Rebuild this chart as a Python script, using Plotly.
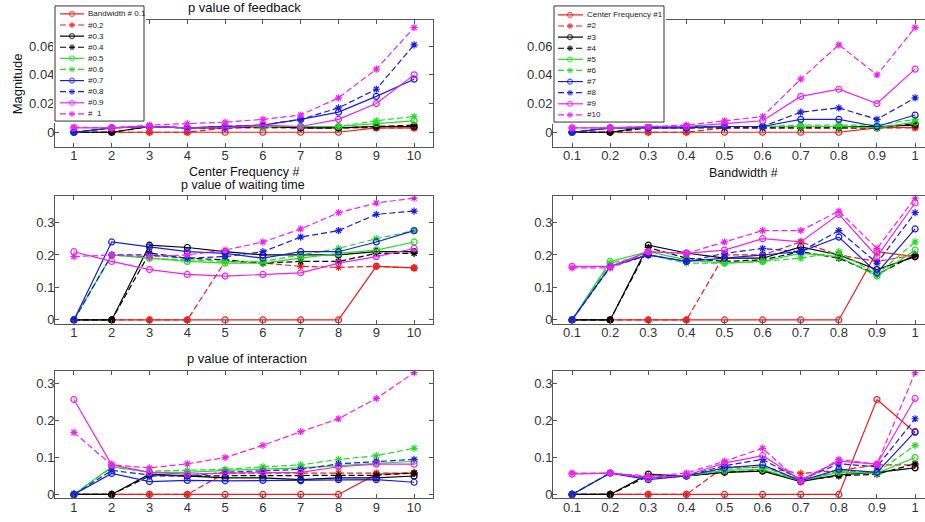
import plotly.graph_objects as go

# ---------------- data ----------------
center_freq = [1, 2, 3, 4, 5, 6, 7, 8, 9, 10]
bandwidth = [0.1, 0.2, 0.3, 0.4, 0.5, 0.6, 0.7, 0.8, 0.9, 1.0]
cf_ticktext = ["1", "2", "3", "4", "5", "6", "7", "8", "9", "10"]
bw_ticktext = ["0.1", "0.2", "0.3", "0.4", "0.5", "0.6", "0.7", "0.8", "0.9", "1"]
bw_legend = ["Bandwidth # 0.1", "#0.2", "#0.3", "#0.4", "#0.5", "#0.6", "#0.7", "#0.8", "#0.9", "#  1"]
cf_legend = ["Center Frequency #1", "#2", "#3", "#4", "#5", "#6", "#7", "#8", "#9", "#10"]

# rows = center frequency #1..#10, columns = bandwidth 0.1..1
feedback = [
    [0, 0, 0, 0, 0, 0, 0, 0, 0.003, 0.0035],
    [0, 0, 0, 0, 0.003, 0.003, 0.003, 0.003, 0.003, 0.003],
    [0, 0, 0.004, 0.004, 0.004, 0.004, 0.004, 0.004, 0.004, 0.005],
    [0, 0, 0.003, 0.003, 0.003, 0.003, 0.003, 0.003, 0.003, 0.006],
    [0, 0.003, 0.003, 0.003, 0.004, 0.004, 0.004, 0.004, 0.003, 0.007],
    [0, 0.003, 0.004, 0.004, 0.004, 0.004, 0.005, 0.005, 0.005, 0.009],
    [0, 0.003, 0.003, 0.003, 0.004, 0.004, 0.009, 0.009, 0.004, 0.012],
    [0, 0.003, 0.003, 0.003, 0.004, 0.004, 0.014, 0.017, 0.009, 0.024],
    [0.003, 0.003, 0.004, 0.004, 0.006, 0.008, 0.025, 0.030, 0.020, 0.044],
    [0.003, 0.003, 0.004, 0.005, 0.008, 0.011, 0.037, 0.061, 0.040, 0.073],
]
waiting_time = [
    [0, 0, 0, 0, 0, 0, 0, 0, 0.21, 0.195],
    [0, 0, 0, 0, 0.20, 0.20, 0.24, 0.20, 0.18, 0.20],
    [0, 0, 0.23, 0.206, 0.19, 0.19, 0.225, 0.20, 0.155, 0.195],
    [0, 0, 0.223, 0.19, 0.18, 0.185, 0.21, 0.19, 0.14, 0.20],
    [0, 0.18, 0.21, 0.185, 0.175, 0.18, 0.205, 0.195, 0.135, 0.215],
    [0, 0.175, 0.20, 0.175, 0.175, 0.18, 0.19, 0.21, 0.14, 0.24],
    [0, 0.165, 0.20, 0.18, 0.19, 0.20, 0.21, 0.255, 0.145, 0.28],
    [0, 0.162, 0.20, 0.18, 0.205, 0.22, 0.21, 0.275, 0.175, 0.33],
    [0.165, 0.165, 0.21, 0.205, 0.215, 0.25, 0.24, 0.325, 0.195, 0.36],
    [0.16, 0.16, 0.21, 0.205, 0.24, 0.275, 0.275, 0.335, 0.22, 0.375],
]
interaction = [
    [0, 0, 0, 0, 0, 0, 0, 0, 0.257, 0.168],
    [0, 0, 0, 0, 0.075, 0.073, 0.057, 0.065, 0.08, 0.08],
    [0, 0, 0.055, 0.05, 0.06, 0.063, 0.035, 0.053, 0.06, 0.072],
    [0, 0, 0.05, 0.05, 0.06, 0.065, 0.038, 0.05, 0.055, 0.083],
    [0, 0.058, 0.045, 0.05, 0.065, 0.068, 0.037, 0.06, 0.058, 0.10],
    [0, 0.058, 0.045, 0.05, 0.068, 0.075, 0.038, 0.063, 0.06, 0.133],
    [0, 0.058, 0.04, 0.05, 0.072, 0.08, 0.037, 0.068, 0.06, 0.17],
    [0, 0.058, 0.045, 0.05, 0.078, 0.095, 0.04, 0.083, 0.075, 0.205],
    [0.055, 0.058, 0.045, 0.052, 0.085, 0.105, 0.04, 0.09, 0.082, 0.26],
    [0.058, 0.058, 0.05, 0.058, 0.09, 0.125, 0.033, 0.095, 0.082, 0.33],
]

# ---------------- styles ----------------
W, H = 925, 522
FONT = "Arial, Liberation Sans, sans-serif"
colors = ["#ee1c1c", "#ee1c1c", "#000000", "#000000", "#22dd22",
          "#22dd22", "#1a1ae6", "#1a1ae6", "#ee22ee", "#ee22ee"]
dashes = ["solid", "6px,3px"] * 5
symbols = ["circle-open", "asterisk-open"] * 5


def px_x(p):
    return p / W


def px_y(p):
    return 1 - p / H


rows = [
    dict(M=feedback, y=(20, 148), rng=[-0.0102, 0.0784],
         tv=[0, 0.02, 0.04, 0.06], tt=["0", "0.02", "0.04", "0.06"]),
    dict(M=waiting_time, y=(198, 326), rng=[-0.011, 0.38],
         tv=[0, 0.1, 0.2, 0.3], tt=["0", "0.1", "0.2", "0.3"]),
    dict(M=interaction, y=(374, 502), rng=[-0.01, 0.334],
         tv=[0, 0.1, 0.2, 0.3], tt=["0", "0.1", "0.2", "0.3"]),
]

fig = go.Figure()
layout = {}


def ax_name(i):
    return "" if i == 1 else str(i)


axis_common = dict(showline=True, linecolor="#555555", linewidth=1, ticks="inside",
                   ticklen=4, tickcolor="#555555", showgrid=False, zeroline=False,
                   ticklabelstandoff=-3,
                   tickfont=dict(size=13, color="#333333", family=FONT))


def style(k):
    return dict(line=dict(color=colors[k], width=1.2, dash=dashes[k]),
                marker=dict(symbol=symbols[k], size=6, color=colors[k],
                            line=dict(color=colors[k], width=1.2)))


for r, row in enumerate(rows):
    M = row["M"]
    li, ri = 2 * r + 1, 2 * r + 2
    # left: series = bandwidth, x = centre frequency
    for j in range(10):
        fig.add_trace(go.Scatter(x=center_freq, y=[M[i][j] for i in range(10)],
                                 mode="lines+markers", xaxis="x" + ax_name(li),
                                 yaxis="y" + ax_name(li), showlegend=False, **style(j)))
    # right: series = centre frequency, x = bandwidth
    for i in range(10):
        fig.add_trace(go.Scatter(x=bandwidth, y=M[i], mode="lines+markers",
                                 xaxis="x" + ax_name(ri), yaxis="y" + ax_name(ri),
                                 showlegend=False, **style(i)))
    ydom = [px_y(row["y"][1]), px_y(row["y"][0])]
    layout["xaxis" + ax_name(li)] = dict(axis_common, domain=[px_x(55), px_x(433)],
                                         range=[0.5, 10.5], tickvals=center_freq,
                                         ticktext=cf_ticktext, mirror="ticks",
                                         anchor="y" + ax_name(li))
    layout["yaxis" + ax_name(li)] = dict(axis_common, domain=ydom, range=row["rng"],
                                         tickvals=row["tv"], ticktext=row["tt"],
                                         mirror="ticks", anchor="x" + ax_name(li))
    layout["xaxis" + ax_name(ri)] = dict(axis_common, domain=[px_x(553), 1],
                                         range=[0.05, 1.026], tickvals=bandwidth,
                                         ticktext=bw_ticktext, mirror="ticks",
                                         anchor="y" + ax_name(ri))
    layout["yaxis" + ax_name(ri)] = dict(axis_common, domain=ydom, range=row["rng"],
                                         tickvals=row["tv"], ticktext=row["tt"],
                                         mirror=False, anchor="x" + ax_name(ri))

# ---------------- hand-drawn compact legends (own subplots, pixel units) ----------------
annotations = []


def make_legend(idx, names, box, y_first, step, sx0, sxm, sx1, tx):
    x0, y0, x1, y1 = box
    xa, ya = "x" + str(idx), "y" + str(idx)
    layout["xaxis" + str(idx)] = dict(domain=[px_x(x0 - 2), px_x(x1 + 2)], range=[x0 - 2, x1 + 2],
                                      visible=False, anchor=ya)
    layout["yaxis" + str(idx)] = dict(domain=[px_y(y1 + 2), px_y(y0 - 2)], range=[y1 + 2, y0 - 2],
                                      visible=False, anchor=xa)
    fig.add_trace(go.Scatter(x=[x0, x1, x1, x0, x0], y=[y0, y0, y1, y1, y0], mode="lines",
                             fill="toself", fillcolor="white",
                             line=dict(color="#333333", width=1),
                             xaxis=xa, yaxis=ya, showlegend=False, hoverinfo="skip"))
    for k, name in enumerate(names):
        yy = y_first + step * k
        st = style(k)
        st["marker"]["size"] = [0, 5, 0]
        fig.add_trace(go.Scatter(x=[sx0, sxm, sx1], y=[yy, yy, yy], mode="lines+markers",
                                 xaxis=xa, yaxis=ya, showlegend=False, hoverinfo="skip", **st))
        annotations.append(dict(x=tx, y=yy, xref=xa, yref=ya, text=name, showarrow=False,
                                xanchor="left", yanchor="middle",
                                font=dict(size=8, color="#222222", family=FONT)))


make_legend(7, bw_legend, (55, 6, 144, 122), 14, 11.2, 60, 72, 84, 86)
make_legend(8, cf_legend, (554, 6, 664, 123), 15, 11.2, 558, 570, 583, 585)

# ---------------- titles & labels ----------------
def text_ann(x, y, s, size=13, angle=0):
    annotations.append(dict(x=px_x(x), y=px_y(y), xref="paper", yref="paper", text=s,
                            showarrow=False, xanchor="center", yanchor="middle",
                            textangle=angle,
                            font=dict(size=size, color="#111111", family=FONT)))


text_ann(244, 173, "Center Frequency #", size=12.5)
text_ann(743, 174, "Bandwidth #", size=12.5)
text_ann(244, 8, "p value of feedback")
text_ann(243, 186, "p value of waiting time", size=12.5)
text_ann(247, 361, "p value of interaction")
text_ann(17, 85, "Magnitude", angle=-90)

fig.update_layout(**layout)
fig.update_layout(width=W, height=H, margin=dict(l=0, r=0, t=0, b=0),
                  paper_bgcolor="white", plot_bgcolor="white",
                  annotations=annotations, showlegend=False,
                  font=dict(family=FONT))

fig.write_html("out.html")
